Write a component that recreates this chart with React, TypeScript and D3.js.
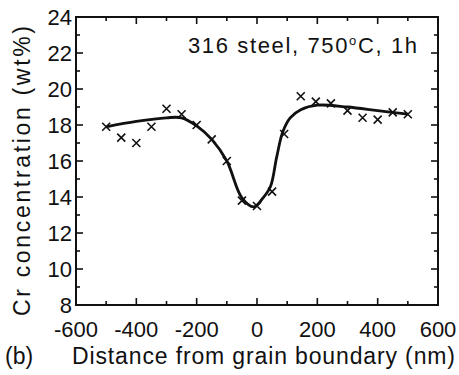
import React, { useEffect, useRef } from 'react';
import * as d3 from 'd3';

// measured points (nm, wt%)
const pointX = [-500, -450, -400, -350, -300, -250, -200, -150, -100, -50, 0, 50, 90, 145, 195, 245, 300, 350, 400, 450, 500];
const pointY = [17.9, 17.3, 17.0, 17.9, 18.9, 18.6, 18.0, 17.2, 16.0, 13.8, 13.5, 14.3, 17.5, 19.6, 19.3, 19.2, 18.8, 18.4, 18.3, 18.7, 18.6];

// fitted curve
const curveX = [-500, -400, -300, -250, -200, -150, -100, -50, -10, 20, 45, 65, 85, 110, 145, 200, 300, 400, 500];
const curveY = [17.9, 18.2, 18.4, 18.4, 17.95, 17.2, 16.0, 13.95, 13.45, 13.95, 14.6, 16.2, 17.6, 18.4, 18.85, 19.1, 19.0, 18.8, 18.6];

const xTicks = [-600, -400, -200, 0, 200, 400, 600];
const xMinor = [-500, -300, -100, 100, 300, 500];
const yTicks = [8, 10, 12, 14, 16, 18, 20, 22, 24];
const yMinor = [9, 11, 13, 15, 17, 19, 21, 23];

const W = 459, H = 375;
const margin = { top: 17, right: 21, bottom: 70, left: 76 };
const FONT = "'Liberation Sans', Arial, Helvetica, sans-serif";

const App: React.FC = () => {
  const svgRef = useRef<SVGSVGElement>(null);

  useEffect(() => {
    if (!svgRef.current) return;
    const svg = d3.select(svgRef.current);
    svg.selectAll('*').remove();

    const x = d3.scaleLinear().domain([-600, 600]).range([margin.left, W - margin.right]);
    const y = d3.scaleLinear().domain([8, 24]).range([H - margin.bottom, margin.top]);
    const x0 = x.range()[0], x1 = x.range()[1];
    const y0 = y.range()[0], y1 = y.range()[1];

    const g = svg.append('g');

    // ticks, pointing inward on all four sides
    const tickSides = (vals: number[], len: number) => {
      vals.forEach(v => {
        g.append('line').attr('x1', x(v)).attr('x2', x(v)).attr('y1', y0).attr('y2', y0 - len);
        g.append('line').attr('x1', x(v)).attr('x2', x(v)).attr('y1', y1).attr('y2', y1 + len);
      });
    };
    const tickLR = (vals: number[], len: number) => {
      vals.forEach(v => {
        g.append('line').attr('x1', x0).attr('x2', x0 + len).attr('y1', y(v)).attr('y2', y(v));
        g.append('line').attr('x1', x1).attr('x2', x1 - len).attr('y1', y(v)).attr('y2', y(v));
      });
    };
    tickSides(xTicks, 7);
    tickSides(xMinor, 4);
    tickLR(yTicks, 7);
    tickLR(yMinor, 4);
    g.selectAll('line').attr('stroke', '#111').attr('stroke-width', 1.6);

    g.append('rect')
      .attr('x', x0).attr('y', y1).attr('width', x1 - x0).attr('height', y0 - y1)
      .attr('fill', 'none').attr('stroke', '#111').attr('stroke-width', 2);

    // tick labels
    g.selectAll('.xl').data(xTicks).join('text')
      .attr('x', d => x(d)).attr('y', 337)
      .attr('text-anchor', 'middle')
      .style('font-family', FONT).style('font-size', '22px').attr('fill', '#111')
      .text(d => String(d));
    g.selectAll('.yl').data(yTicks).join('text')
      .attr('x', 72).attr('y', d => y(d)).attr('dy', '0.36em')
      .attr('text-anchor', 'end')
      .style('font-family', FONT).style('font-size', '22px').attr('fill', '#111')
      .text(d => String(d));

    // fitted curve
    const line = d3.line<number>()
      .x((_, i) => x(curveX[i]))
      .y(d => y(d))
      .curve(d3.curveCatmullRom.alpha(0.5));
    g.append('path').datum(curveY).attr('d', line)
      .attr('fill', 'none').attr('stroke', '#111').attr('stroke-width', 2.8)
      .attr('stroke-linejoin', 'round');

    // x markers
    const s = 4;
    g.selectAll('.pt').data(pointY).join('path')
      .attr('d', (d, i) => {
        const cx = x(pointX[i]), cy = y(d);
        return `M${cx - s},${cy - s}L${cx + s},${cy + s}M${cx + s},${cy - s}L${cx - s},${cy + s}`;
      })
      .attr('stroke', '#111').attr('stroke-width', 1.6).attr('fill', 'none');

    // annotation
    const t = g.append('text')
      .attr('x', 188).attr('y', 53)
      .attr('textLength', 229).attr('lengthAdjust', 'spacing')
      .style('font-family', FONT).style('font-size', '22px').attr('fill', '#111');
    t.append('tspan').text('316 steel, 750');
    t.append('tspan').attr('dy', -8).style('font-size', '13px').text('o');
    t.append('tspan').attr('dy', 8).text('C, 1h');

    // axis titles
    g.append('text')
      .attr('x', 72).attr('y', 364)
      .attr('textLength', 383).attr('lengthAdjust', 'spacing')
      .style('font-family', FONT).style('font-size', '23px').attr('fill', '#111')
      .text('Distance from grain boundary (nm)');
    g.append('text')
      .attr('x', 5).attr('y', 364)
      .style('font-family', FONT).style('font-size', '23px').attr('fill', '#111')
      .text('(b)');
    g.append('text')
      .attr('transform', `translate(30,${(y0 + y1) / 2 + 10}) rotate(-90)`)
      .attr('text-anchor', 'middle')
      .attr('textLength', 290).attr('lengthAdjust', 'spacing')
      .style('font-family', FONT).style('font-size', '23px').attr('fill', '#111')
      .text('Cr concentration (wt%)');
  }, []);

  return (
    <svg ref={svgRef} width={W} height={H}
      style={{ position: 'absolute', left: 0, top: 0, background: '#fff' }} />
  );
};

export default App;
